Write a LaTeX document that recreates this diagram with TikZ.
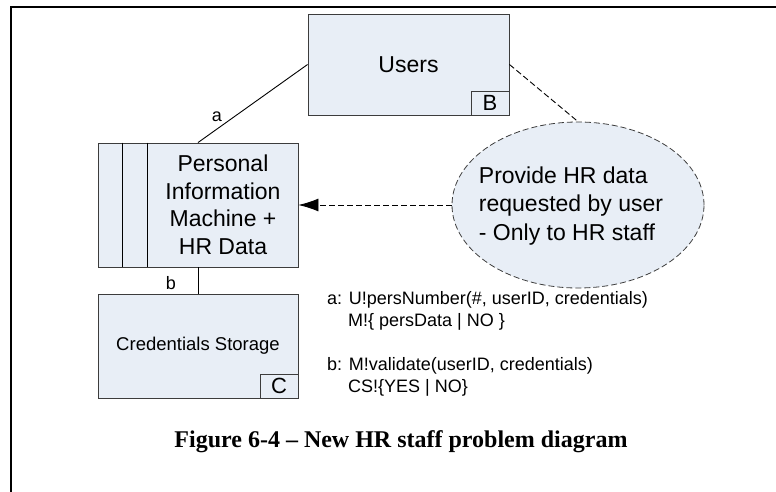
\documentclass[tikz,border=0pt]{standalone}
\usepackage{fontspec}
\setmainfont{Liberation Sans}
\newfontfamily\capfont[Ligatures=TeX]{Liberation Serif}
\usetikzlibrary{arrows.meta, positioning, shapes.geometric}
\definecolor{domaincolor}{RGB}{232,238,246}
\definecolor{edgecolor}{RGB}{60,60,60}

\begin{document}
\begin{tikzpicture}[
    x=1pt, y=-1pt,
    probbox/.style={draw=edgecolor, fill=domaincolor, line width=0.9pt, inner sep=0pt},
    tagbox/.style={draw=edgecolor, fill=domaincolor, line width=0.9pt, inner sep=0pt,
        minimum width=38, minimum height=24, anchor=south east, font=\fontsize{22}{24}\selectfont},
    reqoval/.style={ellipse, draw=edgecolor, fill=domaincolor, dashed, dash pattern=on 6pt off 3pt,
        line width=0.8pt, inner sep=0pt},
    bigtxt/.style={font=\fontsize{23}{27.5}\selectfont},
    smalltxt/.style={font=\fontsize{18}{22}\selectfont, anchor=west, inner sep=0pt},
    link/.style={line width=0.9pt},
    reqlink/.style={line width=0.9pt, dash pattern=on 6pt off 3pt}
]
    \useasboundingbox (0,0) rectangle (776,492);

    % Frame
    \draw[line width=2.6pt] (11,492) -- (11,7) -- (776,7);

    % Domains
    \node[probbox, minimum width=201, minimum height=101, bigtxt] (users) at (408.5,64.5) {Users};
    \node[tagbox] (tagB) at (users.south east) {B};

    \node[probbox, minimum width=200, minimum height=124] (machine) at (198,205) {};
    \draw[link] ([xshift=25]machine.north west) -- ([xshift=25]machine.south west);
    \draw[link] ([xshift=50]machine.north west) -- ([xshift=50]machine.south west);
    \node[bigtxt, align=center] (machinetxt) at (223,205) {Personal\\Information\\Machine +\\HR Data};

    \node[probbox, minimum width=200, minimum height=104, font=\fontsize{18.5}{22}\selectfont] (creds) at (198,346) {Credentials Storage};
    \node[tagbox] (tagC) at (creds.south east) {C};

    % Requirement
    \node[reqoval, minimum width=252, minimum height=166] (req) at (578,205) {};
    \node[bigtxt, align=left, font=\fontsize{23}{28.5}\selectfont] (reqtxt) at (571,206) {Provide HR data\\requested by user\\- Only to HR staff};

    % Interfaces
    \draw[link] (users.west) -- (machine.north);
    \node[smalltxt, anchor=center] (lblA) at (217,117) {a};
    \draw[link] (machine.south) -- (creds.north);
    \node[smalltxt, anchor=center] (lblB) at (171,283) {b};

    % Requirement references
    \draw[reqlink] (users.east) -- (req.north);
    \draw[reqlink, -{Latex[length=20pt, width=13pt]}] (req.west) -- (machine.east);

    % Interface descriptions
    \node[smalltxt] (ifaceA) at (327,300) {a: U!persNumber(\#, userID, credentials)};
    \node[smalltxt] (ifaceA2) at (348,322) {M!\{ persData | NO \}};
    \node[smalltxt] (ifaceB) at (327,366) {b: M!validate(userID, credentials)};
    \node[smalltxt] (ifaceB2) at (348,388) {CS!\{YES | NO\}};

    % Caption
    \node[font=\capfont\bfseries\fontsize{24}{28}\selectfont] (caption) at (401,442) {Figure 6-4 \textendash{} New HR staff problem diagram};
\end{tikzpicture}
\end{document}
